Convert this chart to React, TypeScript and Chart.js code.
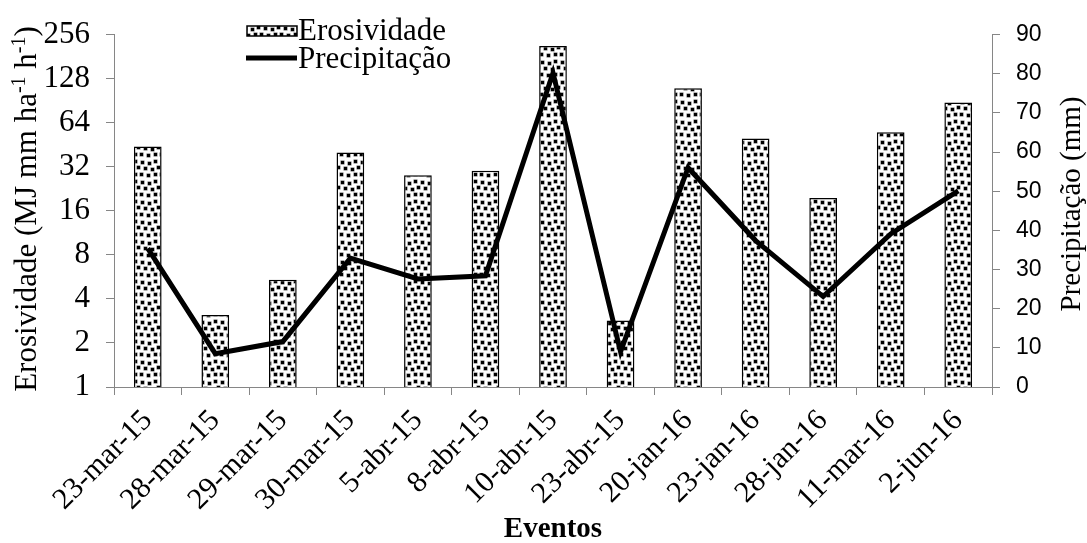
import React, { useEffect, useRef } from "react";
import { Chart, registerables } from "chart.js";

Chart.register(...registerables);

const categories = [
  "23-mar-15", "28-mar-15", "29-mar-15", "30-mar-15", "5-abr-15", "8-abr-15",
  "10-abr-15", "23-abr-15", "20-jan-16", "23-jan-16", "28-jan-16", "11-mar-16", "2-jun-16",
];
const erosividade = [44, 3.1, 5.4, 40, 28, 30, 214, 2.85, 110, 50, 19.6, 55, 88];
const precipitacao = [35.4, 8.5, 11.6, 32.9, 27.6, 28.4, 80.2, 9, 56, 37.4, 23.1, 39.1, 50.1];
const leftTicks = [1, 2, 4, 8, 16, 32, 64, 128, 256];
const rightTicks = [0, 10, 20, 30, 40, 50, 60, 70, 80, 90];

const SERIF = "'Times New Roman', 'Liberation Serif', serif";
const SANS = "'Liberation Sans', Arial, sans-serif";
const GRAY = "#868686";

function makePattern(): CanvasPattern | string {
  const W = 20;
  const H = 20;
  const c = document.createElement("canvas");
  c.width = W;
  c.height = H;
  const g = c.getContext("2d");
  if (!g) return "#fff";
  g.fillStyle = "#fff";
  g.fillRect(0, 0, W, H);
  const sq = [
    [1, 1], [8, 2], [14, 0],
    [4, 7], [11, 8], [17, 6],
    [0, 13], [7, 14], [14, 13],
  ];
  sq.forEach(([x, y]) => {
    for (const dx of [0, -W, W]) {
      for (const dy of [0, -H, H]) {
        g.fillStyle = "#666";
        g.fillRect(x + dx - 0.5, y + dy - 0.5, 4, 4);
        g.fillStyle = "#000";
        g.fillRect(x + dx, y + dy, 3, 3);
      }
    }
  });
  const p = g.createPattern(c, "repeat");
  return p || "#fff";
}

export default function App() {
  const ref = useRef<HTMLCanvasElement | null>(null);

  useEffect(() => {
    if (!ref.current) return;
    const pattern = makePattern();

    const titlesPlugin = {
      id: "customTitles",
      afterDraw(chart: any) {
        const ctx = chart.ctx;
        ctx.save();
        ctx.fillStyle = "#000";
        // Left title with superscripts
        const main = `31px ${SERIF}`;
        const sup = `20px ${SERIF}`;
        const segs: [string, boolean][] = [
          ["Erosividade (MJ mm ha", false],
          ["-1", true],
          [" h", false],
          ["-1", true],
          [")", false],
        ];
        let total = 0;
        segs.forEach(([t, s]) => {
          ctx.font = s ? sup : main;
          total += ctx.measureText(t).width;
        });
        ctx.translate(36, 209);
        ctx.rotate(-Math.PI / 2);
        let x = -total / 2;
        ctx.textBaseline = "alphabetic";
        ctx.textAlign = "left";
        segs.forEach(([t, s]) => {
          ctx.font = s ? sup : main;
          ctx.fillText(t, x, s ? -11 : 0);
          x += ctx.measureText(t).width;
        });
        ctx.restore();

        // Right title
        ctx.save();
        ctx.fillStyle = "#000";
        ctx.font = `29px ${SERIF}`;
        ctx.translate(1080, 204);
        ctx.rotate(-Math.PI / 2);
        ctx.textAlign = "center";
        ctx.textBaseline = "alphabetic";
        ctx.fillText("Precipitação (mm)", 0, 0);
        ctx.restore();

        // X title
        ctx.save();
        ctx.fillStyle = "#000";
        ctx.font = `bold 29px ${SERIF}`;
        ctx.textAlign = "center";
        ctx.textBaseline = "alphabetic";
        ctx.fillText("Eventos", 553, 537);
        ctx.restore();

        // Legend
        ctx.save();
        ctx.fillStyle = pattern as any;
        ctx.fillRect(247, 26, 50, 10);
        ctx.strokeStyle = "#000";
        ctx.lineWidth = 1.5;
        ctx.strokeRect(247, 26, 50, 10);
        ctx.beginPath();
        ctx.lineWidth = 5;
        ctx.moveTo(246, 58);
        ctx.lineTo(297, 58);
        ctx.stroke();
        ctx.fillStyle = "#000";
        ctx.font = `31px ${SERIF}`;
        ctx.textAlign = "left";
        ctx.textBaseline = "alphabetic";
        ctx.fillText("Erosividade", 298, 40);
        ctx.fillText("Precipitação", 298, 68);
        ctx.restore();
      },
    };

    const chart = new Chart(ref.current, {
      type: "bar",
      data: {
        labels: categories,
        datasets: [
          {
            type: "line",
            label: "Precipitação",
            data: precipitacao,
            yAxisID: "y1",
            borderColor: "#000",
            borderWidth: 5,
            pointRadius: 0,
            tension: 0,
            fill: false,
            order: 0,
          } as any,
          {
            type: "bar",
            label: "Erosividade",
            data: erosividade,
            yAxisID: "y",
            backgroundColor: pattern as any,
            borderColor: "#000",
            borderWidth: 1.5,
            barPercentage: 0.41,
            categoryPercentage: 1,
            order: 1,
          } as any,
        ],
      },
      options: {
        animation: false,
        responsive: true,
        maintainAspectRatio: false,
        layout: { padding: { top: 33, left: 0, right: 0, bottom: 0 } },
        plugins: {
          legend: { display: false },
          tooltip: { enabled: false },
          title: { display: false },
        },
        scales: {
          x: {
            type: "category",
            offset: true,
            grid: {
              display: true,
              drawOnChartArea: false,
              drawTicks: true,
              tickLength: 8,
              color: GRAY,
              offset: true,
            },
            border: { display: true, color: GRAY, width: 1 },
            ticks: {
              color: "#000",
              font: { family: SERIF, size: 30 },
              minRotation: 45,
              maxRotation: 45,
              autoSkip: false,
              padding: 8,
            },
            afterFit: (s: any) => {
              s.height = 156;
            },
          },
          y: {
            type: "logarithmic",
            position: "left",
            min: 1,
            max: 256,
            grid: {
              display: true,
              drawOnChartArea: false,
              tickLength: 8,
              color: GRAY,
            },
            border: { display: true, color: GRAY, width: 1 },
            ticks: {
              color: "#000",
              font: { family: SERIF, size: 31 },
              padding: 16,
              callback: (v: any) => String(v),
            },
            afterBuildTicks: (s: any) => {
              s.ticks = leftTicks.map((v) => ({ value: v }));
            },
            afterFit: (s: any) => {
              s.width = 114;
            },
          },
          y1: {
            type: "linear",
            position: "right",
            min: 0,
            max: 90,
            grid: {
              display: true,
              drawOnChartArea: false,
              tickLength: 8,
              color: GRAY,
            },
            border: { display: true, color: GRAY, width: 1 },
            ticks: {
              color: "#000",
              font: { family: SANS, size: 23 },
              padding: 16,
              stepSize: 10,
            },
            afterBuildTicks: (s: any) => {
              s.ticks = rightTicks.map((v) => ({ value: v }));
            },
            afterFit: (s: any) => {
              s.width = 95;
            },
          },
        },
      },
      plugins: [titlesPlugin],
    });

    return () => chart.destroy();
  }, []);

  return (
    <div style={{ position: "fixed", left: 0, top: 0, width: 1087, height: 543, background: "#fff" }}>
      <canvas ref={ref} />
    </div>
  );
}
